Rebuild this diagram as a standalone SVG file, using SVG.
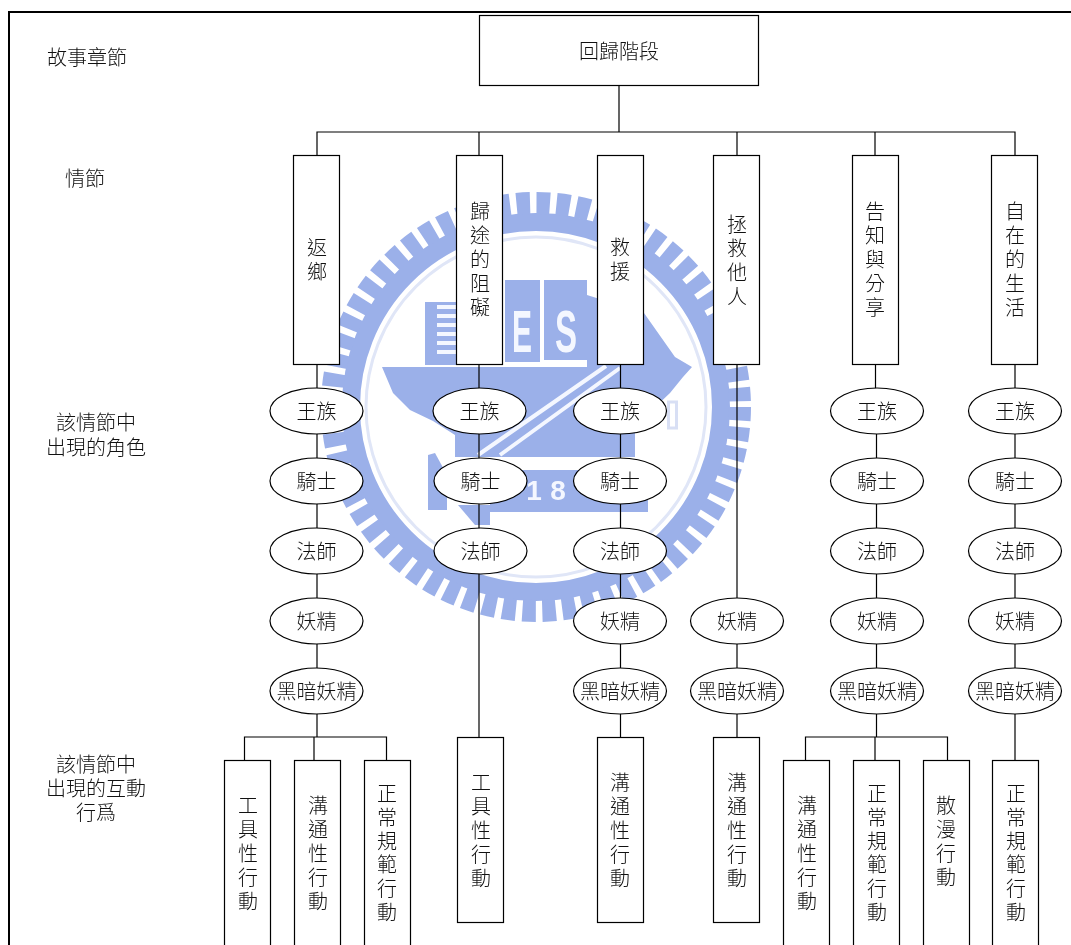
<svg xmlns="http://www.w3.org/2000/svg" width="1071" height="945" viewBox="0 0 1071 945">
<defs><filter id="soft" x="-5%" y="-5%" width="110%" height="110%"><feGaussianBlur stdDeviation="0.7"/></filter></defs>
<style>
text{font-family:"Noto Sans CJK TC","Noto Sans CJK SC",sans-serif;font-size:20px;font-weight:300;fill:#111;text-anchor:middle}
.b{fill:#fff;stroke:#000;stroke-width:1.2}
.c{fill:none;stroke:#000;stroke-width:1.2}
.w{fill:#9bb0e9}
.wt{fill:#f4f7ff;font-family:"Liberation Sans",sans-serif;font-weight:700;font-size:60px}
.wd{font-size:28px}
</style>
<rect width="1071" height="945" fill="#fff"/>
<path d="M9 945V12H1071" fill="none" stroke="#000" stroke-width="2"/>

<g id="watermark" filter="url(#soft)">
<circle cx="536" cy="407" r="185" fill="none" stroke="#9bb0e9" stroke-width="18"/>
<circle cx="536" cy="407" r="204" fill="none" stroke="#9bb0e9" stroke-width="22" stroke-dasharray="13.500 6.530"/>
<circle cx="536" cy="407" r="170" fill="none" stroke="#e0e6f7" stroke-width="3"/>
<polygon class="w" points="382,367 692,367 683,377 670,393 650,412 635,430 635,457 455,457 455,435 433,421 410,410 393,393"/>
<polygon class="w" points="587,295 644,313 675,357 692,367 587,367"/>
<rect class="w" x="425" y="302" width="31" height="63"/>
<path d="M437 307H456M437 316H456M437 325H456M437 334H456M437 343H456M437 352H456" stroke="#f4f7ff" stroke-width="4" fill="none"/>
<rect class="w" x="505" y="280" width="35" height="82"/>
<rect class="w" x="544" y="280" width="43" height="80"/>
<text class="wt" transform="translate(522 352) scale(.5 1)">E</text>
<text class="wt" transform="translate(566 352) scale(.55 1)">S</text>
<path d="M606 366L478 455M620 368L500 455" stroke="#f4f7ff" stroke-width="4" fill="none"/>
<rect class="w" x="490" y="470" width="158" height="42"/>
<text class="wt wd" x="534" y="500">1</text>
<text class="wt wd" x="558" y="500">8</text>
<polygon class="w" points="428,455 435,453 447,475 447,510 428,510"/>
<polygon class="w" points="458,505 490,505 490,525 475,525"/>
<rect x="668.500" y="402" width="8" height="26" fill="none" stroke="#d8dff4" stroke-width="3"/>
</g>

<g id="connectors">
<path class="c" d="M619 85V132M317 155V132H1015V155M479 132V155M737 132V155M875 132V155"/>
<path class="c" d="M317 364V737M244.500 760V737H386.500V760M314 737V760"/>
<path class="c" d="M479 364V737"/>
<path class="c" d="M620.500 364V737"/>
<path class="c" d="M737 364V737"/>
<path class="c" d="M875.500 364V411M876.500 411V737M805.500 760V737H947.500V760M875 737V760"/>
<path class="c" d="M1015 364V760"/>
</g>

<g id="labels">
<text x="87" y="65">故事章節</text>
<text x="85" y="186">情節</text>
<text x="96" y="430">該情節中<tspan x="96" dy="25">出現的角色</tspan></text>
<text x="96" y="772">該情節中<tspan x="96" dy="24">出現的互動</tspan><tspan x="96" dy="24">行爲</tspan></text>
</g>

<g id="chapter"><rect class="b" x="479.500" y="15.500" width="279" height="70"/><text x="619" y="59">回歸階段</text></g>

<g id="plot-1"><rect class="b" x="293.500" y="155.500" width="46" height="209"/><text x="317" y="255">返<tspan x="317" dy="24">鄉</tspan></text></g>
<g id="plot-2"><rect class="b" x="456.500" y="155.500" width="46" height="209"/><text x="480" y="219">歸<tspan x="480" dy="24">途</tspan><tspan x="480" dy="24">的</tspan><tspan x="480" dy="24">阻</tspan><tspan x="480" dy="24">礙</tspan></text></g>
<g id="plot-3"><rect class="b" x="597.500" y="155.500" width="46" height="209"/><text x="620" y="255">救<tspan x="620" dy="24">援</tspan></text></g>
<g id="plot-4"><rect class="b" x="713.500" y="155.500" width="46" height="209"/><text x="737" y="232">拯<tspan x="737" dy="24">救</tspan><tspan x="737" dy="24">他</tspan><tspan x="737" dy="24">人</tspan></text></g>
<g id="plot-5"><rect class="b" x="852.500" y="155.500" width="46" height="209"/><text x="875" y="219">告<tspan x="875" dy="24">知</tspan><tspan x="875" dy="24">與</tspan><tspan x="875" dy="24">分</tspan><tspan x="875" dy="24">享</tspan></text></g>
<g id="plot-6"><rect class="b" x="991.500" y="155.500" width="46" height="209"/><text x="1015" y="219">自<tspan x="1015" dy="24">在</tspan><tspan x="1015" dy="24">的</tspan><tspan x="1015" dy="24">生</tspan><tspan x="1015" dy="24">活</tspan></text></g>

<g id="c1-royal"><ellipse class="b" cx="316.500" cy="411" rx="46.500" ry="23"/><text x="316.500" y="419">王族</text></g>
<g id="c1-knight"><ellipse class="b" cx="316.500" cy="481" rx="46.500" ry="23"/><text x="316.500" y="489">騎士</text></g>
<g id="c1-mage"><ellipse class="b" cx="316.500" cy="551" rx="46.500" ry="23"/><text x="316.500" y="559">法師</text></g>
<g id="c1-fairy"><ellipse class="b" cx="316.500" cy="621" rx="46.500" ry="23"/><text x="316.500" y="629">妖精</text></g>
<g id="c1-dark"><ellipse class="b" cx="316.500" cy="691" rx="46.500" ry="23"/><text x="316.500" y="699">黑暗妖精</text></g>

<g id="c2-royal"><ellipse class="b" cx="479.500" cy="411" rx="46.500" ry="23"/><text x="479.500" y="419">王族</text></g>
<g id="c2-knight"><ellipse class="b" cx="480.500" cy="481" rx="46.500" ry="23"/><text x="480.500" y="489">騎士</text></g>
<g id="c2-mage"><ellipse class="b" cx="480.500" cy="551" rx="46.500" ry="23"/><text x="480.500" y="559">法師</text></g>

<g id="c3-royal"><ellipse class="b" cx="620" cy="411" rx="46.500" ry="23"/><text x="620" y="419">王族</text></g>
<g id="c3-knight"><ellipse class="b" cx="620" cy="481" rx="46.500" ry="23"/><text x="620" y="489">騎士</text></g>
<g id="c3-mage"><ellipse class="b" cx="620" cy="551" rx="46.500" ry="23"/><text x="620" y="559">法師</text></g>
<g id="c3-fairy"><ellipse class="b" cx="620" cy="621" rx="46.500" ry="23"/><text x="620" y="629">妖精</text></g>
<g id="c3-dark"><ellipse class="b" cx="620" cy="691" rx="46.500" ry="23"/><text x="620" y="699">黑暗妖精</text></g>

<g id="c4-fairy"><ellipse class="b" cx="737" cy="621" rx="46.500" ry="23"/><text x="737" y="629">妖精</text></g>
<g id="c4-dark"><ellipse class="b" cx="737" cy="691" rx="46.500" ry="23"/><text x="737" y="699">黑暗妖精</text></g>

<g id="c5-royal"><ellipse class="b" cx="877" cy="411" rx="46.500" ry="23"/><text x="877" y="419">王族</text></g>
<g id="c5-knight"><ellipse class="b" cx="877" cy="481" rx="46.500" ry="23"/><text x="877" y="489">騎士</text></g>
<g id="c5-mage"><ellipse class="b" cx="877" cy="551" rx="46.500" ry="23"/><text x="877" y="559">法師</text></g>
<g id="c5-fairy"><ellipse class="b" cx="877" cy="621" rx="46.500" ry="23"/><text x="877" y="629">妖精</text></g>
<g id="c5-dark"><ellipse class="b" cx="877" cy="691" rx="46.500" ry="23"/><text x="877" y="699">黑暗妖精</text></g>

<g id="c6-royal"><ellipse class="b" cx="1015" cy="411" rx="46.500" ry="23"/><text x="1015" y="419">王族</text></g>
<g id="c6-knight"><ellipse class="b" cx="1015" cy="481" rx="46.500" ry="23"/><text x="1015" y="489">騎士</text></g>
<g id="c6-mage"><ellipse class="b" cx="1015" cy="551" rx="46.500" ry="23"/><text x="1015" y="559">法師</text></g>
<g id="c6-fairy"><ellipse class="b" cx="1015" cy="621" rx="46.500" ry="23"/><text x="1015" y="629">妖精</text></g>
<g id="c6-dark"><ellipse class="b" cx="1015" cy="691" rx="46.500" ry="23"/><text x="1015" y="699">黑暗妖精</text></g>

<g id="act-1a"><rect class="b" x="224.500" y="760.500" width="46" height="200"/><text x="248" y="813">工<tspan x="248" dy="24">具</tspan><tspan x="248" dy="24">性</tspan><tspan x="248" dy="24">行</tspan><tspan x="248" dy="24">動</tspan></text></g>
<g id="act-1b"><rect class="b" x="294.500" y="760.500" width="46" height="200"/><text x="318" y="813">溝<tspan x="318" dy="24">通</tspan><tspan x="318" dy="24">性</tspan><tspan x="318" dy="24">行</tspan><tspan x="318" dy="24">動</tspan></text></g>
<g id="act-1c"><rect class="b" x="364.500" y="760.500" width="46" height="200"/><text x="387" y="801">正<tspan x="387" dy="23.800">常</tspan><tspan x="387" dy="23.800">規</tspan><tspan x="387" dy="23.800">範</tspan><tspan x="387" dy="23.800">行</tspan><tspan x="387" dy="23.800">動</tspan></text></g>
<g id="act-2"><rect class="b" x="457.500" y="737.500" width="46" height="185"/><text x="481" y="790">工<tspan x="481" dy="24">具</tspan><tspan x="481" dy="24">性</tspan><tspan x="481" dy="24">行</tspan><tspan x="481" dy="24">動</tspan></text></g>
<g id="act-3"><rect class="b" x="597.500" y="737.500" width="46" height="185"/><text x="620" y="790">溝<tspan x="620" dy="24">通</tspan><tspan x="620" dy="24">性</tspan><tspan x="620" dy="24">行</tspan><tspan x="620" dy="24">動</tspan></text></g>
<g id="act-4"><rect class="b" x="713.500" y="737.500" width="46" height="185"/><text x="737" y="790">溝<tspan x="737" dy="24">通</tspan><tspan x="737" dy="24">性</tspan><tspan x="737" dy="24">行</tspan><tspan x="737" dy="24">動</tspan></text></g>
<g id="act-5a"><rect class="b" x="783.500" y="760.500" width="46" height="200"/><text x="807" y="813">溝<tspan x="807" dy="24">通</tspan><tspan x="807" dy="24">性</tspan><tspan x="807" dy="24">行</tspan><tspan x="807" dy="24">動</tspan></text></g>
<g id="act-5b"><rect class="b" x="853.500" y="760.500" width="46" height="200"/><text x="877" y="801">正<tspan x="877" dy="23.800">常</tspan><tspan x="877" dy="23.800">規</tspan><tspan x="877" dy="23.800">範</tspan><tspan x="877" dy="23.800">行</tspan><tspan x="877" dy="23.800">動</tspan></text></g>
<g id="act-5c"><rect class="b" x="923.500" y="760.500" width="46" height="200"/><text x="946" y="813">散<tspan x="946" dy="24">漫</tspan><tspan x="946" dy="24">行</tspan><tspan x="946" dy="24">動</tspan></text></g>
<g id="act-6"><rect class="b" x="992.500" y="760.500" width="46" height="200"/><text x="1016" y="801">正<tspan x="1016" dy="23.800">常</tspan><tspan x="1016" dy="23.800">規</tspan><tspan x="1016" dy="23.800">範</tspan><tspan x="1016" dy="23.800">行</tspan><tspan x="1016" dy="23.800">動</tspan></text></g>
</svg>
